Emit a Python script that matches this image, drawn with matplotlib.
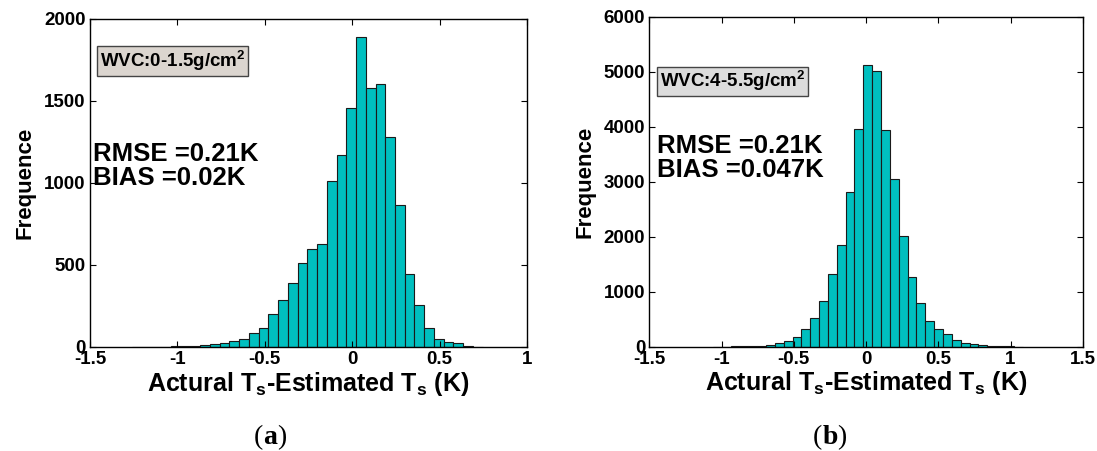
import numpy as np
import matplotlib
matplotlib.use("Agg")
import matplotlib.pyplot as plt

plt.rcParams['font.family'] = ['Liberation Sans', 'DejaVu Sans']
plt.rcParams['font.weight'] = 'bold'
plt.rcParams['mathtext.fontset'] = 'custom'
plt.rcParams['mathtext.rm'] = 'Liberation Sans:bold'
plt.rcParams['mathtext.bf'] = 'Liberation Sans:bold'
plt.rcParams['mathtext.it'] = 'Liberation Sans:bold'
plt.rcParams['mathtext.default'] = 'bf'

# ---- data: panel (a) WVC 0-1.5 g/cm2 ----
a_bin_start = -1.259
a_bin_width = 0.0557
a_counts = [2, 2, 3, 3, 4, 6, 8, 12, 16, 22, 35, 51, 87, 118, 203, 285, 390, 513,
            595, 625, 1015, 1170, 1460, 1890, 1577, 1601, 1282, 865, 448, 256, 116,
            51, 31, 22, 9, 2]
a_xticks = [-1.5, -1, -0.5, 0, 0.5, 1]
a_xticklabels = ['-1.5', '-1', '-0.5', '0', '0.5', '1']
a_yticks = [0, 500, 1000, 1500, 2000]
a_label = 'WVC:0-1.5g/cm$^2$'
a_rmse = 'RMSE =0.21K'
a_bias = 'BIAS =0.02K'

# ---- data: panel (b) WVC 4-5.5 g/cm2 ----
b_bin_start = -1.0606
b_bin_width = 0.0613
b_counts = [2, 3, 4, 6, 10, 18, 36, 60, 95, 182, 325, 515, 824, 1330, 1840, 2820,
            3950, 5120, 5010, 3945, 3040, 2020, 1260, 788, 473, 322, 224, 118, 76,
            45, 30, 18, 12, 6, 3]
b_xticks = [-1.5, -1, -0.5, 0, 0.5, 1, 1.5]
b_xticklabels = ['-1.5', '-1', '-0.5', '0', '0.5', '1', '1.5']
b_yticks = [0, 1000, 2000, 3000, 4000, 5000, 6000]
b_label = 'WVC:4-5.5g/cm$^2$'
b_rmse = 'RMSE =0.21K'
b_bias = 'BIAS =0.047K'

xlabel = 'Actural T$_s$-Estimated T$_s$ (K)'
ylabel = 'Frequence'
captions = ['a', 'b']

fig = plt.figure(figsize=(10.97, 4.51), dpi=100)
axA = fig.add_axes([0.0820, 0.2306, 0.3984, 0.7273])
axB = fig.add_axes([0.5919, 0.2313, 0.3951, 0.7317])

bar_color = '#00BFBF'


def draw(ax, start, width, counts, xlim, ylim, xticks, xtl, yticks, label,
         rmse, bias, box_fc, box_pos, txt_pos):
    edges = start + width * np.arange(len(counts) + 1)
    ax.hist(edges[:-1] + width / 2, bins=edges, weights=counts,
            color=bar_color, edgecolor='#1a1a1a', linewidth=0.8)
    ax.set_xlim(*xlim)
    ax.set_ylim(*ylim)
    ax.set_xticks(xticks)
    ax.set_xticklabels(xtl)
    ax.set_yticks(yticks)
    ax.tick_params(direction='in', top=True, right=True, length=4, width=0.8,
                   labelsize=13.5, pad=3)
    for lab in ax.get_xticklabels() + ax.get_yticklabels():
        lab.set_fontweight('bold')
    for s in ax.spines.values():
        s.set_linewidth(1.0)
        s.set_color('black')
    ax.set_xlabel(xlabel, fontsize=18, fontweight='bold', labelpad=1)
    ax.set_ylabel(ylabel, fontsize=16, fontweight='bold', labelpad=6)
    ax.text(box_pos[0], box_pos[1], label, transform=ax.transAxes, fontsize=13.5,
            fontweight='bold', va='center', ha='left',
            bbox=dict(boxstyle='square,pad=0.15', fc=box_fc, ec='#444444', lw=1.0))
    ax.text(txt_pos[0], txt_pos[1], rmse + '\n' + bias, transform=ax.transAxes,
            fontsize=18.5, fontweight='bold', va='top', ha='left', linespacing=1.0)


draw(axA, a_bin_start, a_bin_width, a_counts, (-1.5, 1), (0, 2000), a_xticks,
     a_xticklabels, a_yticks, a_label, a_rmse, a_bias, '#dbd5cf',
     (0.022, 0.873), (0.006, 0.625))
draw(axB, b_bin_start, b_bin_width, b_counts, (-1.5, 1.5), (0, 6000), b_xticks,
     b_xticklabels, b_yticks, b_label, b_rmse, b_bias, '#dcdcdc',
     (0.024, 0.804), (0.018, 0.646))

# captions "(a)" and "(b)" with bold letters
renderer = fig.canvas.get_renderer()
for cx, letter in zip([254, 813], captions):
    y = 1 - 438 / 451
    x = cx / 1097
    for part, w in [('(', 'normal'), (letter, 'bold'), (')', 'normal')]:
        t = fig.text(x, y, part, fontsize=20, family='Liberation Serif',
                     ha='left', va='center', fontweight=w)
        bb = t.get_window_extent(renderer)
        x = bb.x1 / fig.bbox.width

fig.savefig('out.png', dpi=100)
